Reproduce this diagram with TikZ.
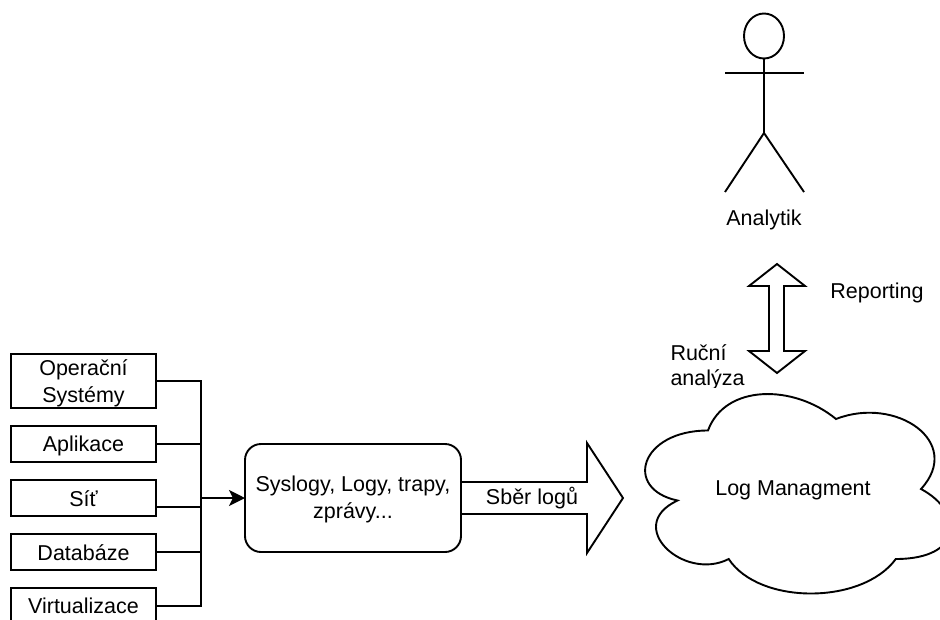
\documentclass[tikz,border=0pt]{standalone}
\usepackage{fontspec}
\setmainfont{Liberation Sans}
\usetikzlibrary{arrows.meta}
\tikzset{
  every node/.style={font=\fontsize{21.5}{27}\selectfont, inner sep=0pt, outer sep=0pt, align=center, text=black},
  line/.style={draw=black, line width=1.9pt, line join=miter},
  sourcebox/.style={line, fill=white, minimum width=145pt},
  link/.style={line},
  linkhead/.style={line, -{Stealth[length=16pt,width=16pt,inset=4pt]}},
}
\begin{document}
\begin{tikzpicture}[x=1pt,y=-1pt]
\clip (0,0) rectangle (940,619);
\fill[white] (0,0) rectangle (940,619);

% sources
\node[sourcebox, minimum height=54pt] (os) at (83.5,381) {};
\node (ostext) at ([yshift=-2pt]os.center) {Operační\\Systémy};
\node[sourcebox, minimum height=36pt] (app) at (83.5,444) {};
\node (apptext) at ([yshift=-2pt]app.center) {Aplikace};
\node[sourcebox, minimum height=36pt] (net) at (83.5,498) {};
\node (nettext) at ([yshift=-1pt]net.center) {Síť};
\node[sourcebox, minimum height=36pt] (db) at (83.5,552) {};
\node (dbtext) at ([yshift=-1pt]db.center) {Databáze};
\node[sourcebox, minimum height=36pt] (virt) at (83.5,606) {};
\node (virttext) at ([yshift=0pt]virt.center) {Virtualizace};

% collector box
\node[line, rounded corners=16pt, fill=white, minimum width=216pt, minimum height=108pt] (sys) at (353,498) {};
\node (systext) at ([yshift=-1.5pt]sys.center) {Syslogy, Logy, trapy,\\zprávy...};

% bus
\coordinate (bus) at (201,498);
\draw[link] (os.east) -| (bus);
\draw[link] (app.east) -- (app.east -| bus);
\draw[link] ([yshift=-9pt]net.east) -- ([yshift=-9pt]net.east -| bus);
\draw[link] (db.east) -- (db.east -| bus);
\draw[link] (virt.east) -| (bus);
\draw[linkhead] (bus) -- (sys.west);

% block arrow
\coordinate (tipA) at (623,498);
\draw[line] ([yshift=16pt]sys.east) -- (587,482) -- (587,443) -- (tipA) -- (587,553) -- (587,514) -- ([yshift=-16pt]sys.east);
\node (sber) at (532,498.5) {Sběr logů};

% actor
\draw[line] (764,36) ellipse [x radius=20, y radius=22.5];
\draw[line] (764,58.5) -- (764,133);
\draw[line] (725,73) -- (804,73);
\draw[line] (725,192) -- (764,133) -- (804,192);
\node (analytik) at (764,220) {Analytik};

% double arrow
\draw[line] (777,264) -- (805,286) -- (784,286) -- (784,351) -- (805,351) -- (777,373) -- (749,351) -- (769,351) -- (769,286) -- (749,286) -- cycle;
\node (rep) at (877,293) {Reporting};
\begin{scope}
\clip (660,335) rectangle (760,387);
\node[align=left, anchor=north west, font=\fontsize{21.5}{25}\selectfont] (rucni) at (670.5,345) {Ruční\\analýza};
\end{scope}

% cloud
\draw[line, fill=white]
  (708,430.5)
  .. controls (640,430.5) and (623,489) .. (677.5,500.5)
  .. controls (623,526) and (684,582) .. (728.7,559)
  .. controls (759,605) and (862,605) .. (895.8,559)
  .. controls (964,559) and (964,512) .. (921,489)
  .. controls (964,442) and (896,395.5) .. (836,419)
  .. controls (793.5,384) and (725,384) .. (708,430.5) -- cycle;
\node (log) at (793,490) {Log Managment};
\end{tikzpicture}
\end{document}
